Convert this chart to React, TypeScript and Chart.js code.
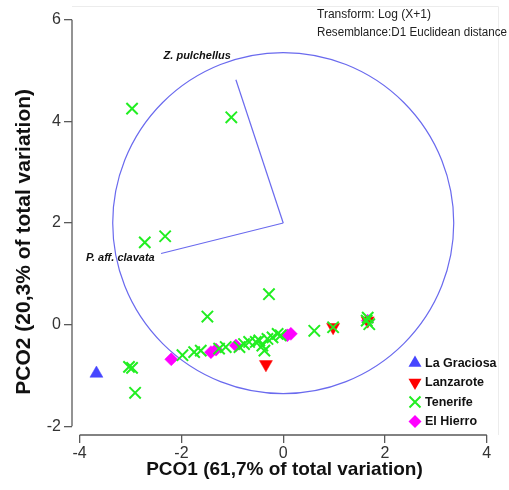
import React, { useEffect, useRef } from "react";
import { Chart, registerables } from "chart.js";

Chart.register(...registerables);

// ---- data ----
const xTicks = [-4, -2, 0, 2, 4];
const yTicks = [-2, 0, 2, 4, 6];

const laGraciosa = [{ x: -3.67, y: -0.96 }];
const lanzarote = [
  { x: -0.34, y: -0.78 },
  { x: 0.98, y: -0.05 },
  { x: 1.66, y: 0.08 },
];
const elHierro = [
  { x: -2.2, y: -0.68 },
  { x: -1.42, y: -0.54 },
  { x: -1.32, y: -0.49 },
  { x: -0.93, y: -0.41 },
  { x: 0.08, y: -0.21 },
  { x: 0.15, y: -0.18 },
  { x: 1.66, y: 0.08 },
];
const tenerife = [
  { x: -2.97, y: 4.25 },
  { x: -1.02, y: 4.08 },
  { x: -2.72, y: 1.62 },
  { x: -2.32, y: 1.74 },
  { x: -0.28, y: 0.6 },
  { x: -1.49, y: 0.16 },
  { x: -3.03, y: -0.83 },
  { x: -2.97, y: -0.85 },
  { x: -2.91, y: -1.34 },
  { x: -1.98, y: -0.6 },
  { x: -1.75, y: -0.54 },
  { x: -1.62, y: -0.51 },
  { x: -1.26, y: -0.47 },
  { x: -1.13, y: -0.44 },
  { x: -0.86, y: -0.44 },
  { x: -0.77, y: -0.38 },
  { x: -0.67, y: -0.34 },
  { x: -0.54, y: -0.34 },
  { x: -0.47, y: -0.31 },
  { x: -0.41, y: -0.41 },
  { x: -0.37, y: -0.51 },
  { x: -0.31, y: -0.28 },
  { x: -0.21, y: -0.25 },
  { x: -0.11, y: -0.18 },
  { x: -0.05, y: -0.21 },
  { x: 0.61, y: -0.12 },
  { x: 0.98, y: -0.05 },
  { x: 1.66, y: 0.14 },
  { x: 1.69, y: 0.01 },
  { x: 1.64, y: 0.08 },
];

const vectorOrigin = { x: 0, y: 2 };
const vectorEnds = [
  { x: -0.93, y: 4.82 },
  { x: -2.4, y: 1.4 },
];
const vectorNames = ["Z. pulchellus", "P. aff. clavata"];
const vectorLabelPos = [
  { x: -1.69, y: 5.29 },
  { x: -3.2, y: 1.31 },
];
const circleRadius = 3.35;

const headerLines = ["Transform: Log (X+1)", "Resemblance:D1 Euclidean distance"];
const legendNames = ["La Graciosa", "Lanzarote", "Tenerife", "El Hierro"];
const xTitle = "PCO1 (61,7% of total variation)";
const yTitle = "PCO2 (20,3% of total variation)";

// ---- styles ----
const BLUE = "#4646ff";
const RED = "#ff0000";
const GREEN = "#22ee22";
const MAGENTA = "#ff00ff";
const VEC = "#6a6aee";
const AXIS = "#5a5a5a";
const FONT = "'Liberation Sans', Arial, sans-serif";

function drawMarker(ctx: CanvasRenderingContext2D, kind: string, x: number, y: number, color: string) {
  ctx.save();
  ctx.fillStyle = color;
  ctx.strokeStyle = color;
  ctx.beginPath();
  if (kind === "up") {
    const r = 7.5;
    ctx.moveTo(x, y - r);
    ctx.lineTo(x + r * 0.866, y + r * 0.5);
    ctx.lineTo(x - r * 0.866, y + r * 0.5);
    ctx.closePath();
    ctx.fill();
  } else if (kind === "down") {
    const r = 7.5;
    ctx.moveTo(x, y + r);
    ctx.lineTo(x + r * 0.866, y - r * 0.5);
    ctx.lineTo(x - r * 0.866, y - r * 0.5);
    ctx.closePath();
    ctx.fill();
  } else if (kind === "x") {
    const h = 5.5;
    ctx.lineWidth = 2;
    ctx.moveTo(x - h, y - h);
    ctx.lineTo(x + h, y + h);
    ctx.moveTo(x + h, y - h);
    ctx.lineTo(x - h, y + h);
    ctx.stroke();
  } else {
    const r = 6.5;
    ctx.moveTo(x, y - r);
    ctx.lineTo(x + r, y);
    ctx.lineTo(x, y + r);
    ctx.lineTo(x - r, y);
    ctx.closePath();
    ctx.fill();
  }
  ctx.restore();
}

const decorPlugin = {
  id: "decor",
  beforeDatasetsDraw(chart: any) {
    const { ctx, scales } = chart;
    const xs = scales.x;
    const ys = scales.y;
    const cx = xs.getPixelForValue(vectorOrigin.x);
    const cy = ys.getPixelForValue(vectorOrigin.y);
    const r = xs.getPixelForValue(circleRadius) - xs.getPixelForValue(0);
    ctx.save();
    ctx.strokeStyle = VEC;
    ctx.lineWidth = 1.2;
    ctx.beginPath();
    ctx.arc(cx, cy, r, 0, Math.PI * 2);
    ctx.stroke();
    ctx.restore();
  },
  afterDraw(chart: any) {
    const { ctx, scales, chartArea } = chart;
    const xs = scales.x;
    const ys = scales.y;
    ctx.save();
    // faint frame
    ctx.strokeStyle = "#ececec";
    ctx.lineWidth = 1;
    ctx.beginPath();
    ctx.moveTo(chartArea.left, 6.5);
    ctx.lineTo(chartArea.right + 1.5, 6.5);
    ctx.lineTo(chartArea.right + 1.5, chartArea.bottom);
    ctx.stroke();
    // bracket axes
    ctx.strokeStyle = AXIS;
    ctx.lineWidth = 1.3;
    ctx.beginPath();
    ctx.moveTo(xs.getPixelForValue(xTicks[0]), chartArea.bottom);
    ctx.lineTo(xs.getPixelForValue(xTicks[xTicks.length - 1]), chartArea.bottom);
    ctx.moveTo(chartArea.left, ys.getPixelForValue(yTicks[0]));
    ctx.lineTo(chartArea.left, ys.getPixelForValue(yTicks[yTicks.length - 1]));
    ctx.stroke();

    // y title
    ctx.save();
    ctx.translate(24, (chartArea.top + chartArea.bottom) / 2 + 18);
    ctx.rotate(-Math.PI / 2);
    ctx.font = `bold 21px ${FONT}`;
    ctx.fillStyle = "#111";
    ctx.textAlign = "center";
    ctx.textBaseline = "middle";
    ctx.fillText(yTitle, 0, 0);
    ctx.restore();

    // vector labels
    ctx.fillStyle = "#111";
    ctx.font = `italic bold 11px ${FONT}`;
    ctx.textAlign = "center";
    ctx.textBaseline = "middle";
    vectorNames.forEach((n, i) => {
      ctx.fillText(n, xs.getPixelForValue(vectorLabelPos[i].x), ys.getPixelForValue(vectorLabelPos[i].y));
    });

    // header
    ctx.font = `12px ${FONT}`;
    ctx.textAlign = "left";
    ctx.fillStyle = "#222";
    const hx = chartArea.right - 180;
    ctx.fillText(headerLines[0], hx, 15, 130);
    ctx.fillText(headerLines[1], hx, 32.5, 190);

    // legend
    const kinds = ["up", "down", "x", "diamond"];
    const colors = [BLUE, RED, GREEN, MAGENTA];
    const lx = chartArea.right - 82;
    const ly = chartArea.bottom - 72;
    ctx.font = `bold 12.5px ${FONT}`;
    legendNames.forEach((n, i) => {
      const y = ly + i * 19.5;
      drawMarker(ctx, kinds[i], lx, y, colors[i]);
      ctx.fillStyle = "#111";
      ctx.fillText(n, lx + 10, y + 0.5);
    });
    ctx.restore();
  },
};

export default function App() {
  const ref = useRef<HTMLCanvasElement | null>(null);
  useEffect(() => {
    document.body.style.margin = "0";
    Chart.defaults.font.family = FONT;
    const canvas = ref.current!;
    const vecLine = (end: { x: number; y: number }) => ({
      type: "line" as const,
      data: [vectorOrigin, end],
      showLine: true,
      borderColor: VEC,
      borderWidth: 1.2,
      pointRadius: 0,
      fill: false,
      order: 10,
    });
    const chart = new Chart(canvas, {
      type: "scatter",
      data: {
        datasets: [
          vecLine(vectorEnds[0]) as any,
          vecLine(vectorEnds[1]) as any,
          {
            label: "El Hierro",
            data: elHierro,
            pointStyle: "rectRot",
            pointRadius: 6.5,
            backgroundColor: MAGENTA,
            borderColor: MAGENTA,
            borderWidth: 0.5,
            order: 4,
          },
          {
            label: "La Graciosa",
            data: laGraciosa,
            pointStyle: "triangle",
            pointRadius: 7.5,
            backgroundColor: BLUE,
            borderColor: BLUE,
            borderWidth: 0.5,
            order: 3,
          },
          {
            label: "Lanzarote",
            data: lanzarote,
            pointStyle: "triangle",
            rotation: 180,
            pointRadius: 7.5,
            backgroundColor: RED,
            borderColor: RED,
            borderWidth: 0.5,
            order: 2,
          },
          {
            label: "Tenerife",
            data: tenerife,
            pointStyle: "crossRot",
            pointRadius: 8,
            backgroundColor: GREEN,
            borderColor: GREEN,
            borderWidth: 2,
            order: 1,
          },
        ],
      },
      options: {
        animation: false,
        responsive: false,
        events: [],
        layout: { padding: { top: 9, right: 12, left: 0, bottom: 0 } },
        plugins: {
          legend: { display: false },
          tooltip: { enabled: false },
        },
        scales: {
          x: {
            type: "linear",
            min: -4.15,
            max: 4.2,
            afterBuildTicks: (s: any) => {
              s.ticks = xTicks.map((v) => ({ value: v }));
            },
            afterFit: (s: any) => {
              s.height = 55;
            },
            grid: { drawOnChartArea: false, drawTicks: true, tickLength: 8, color: AXIS, lineWidth: 1.3 },
            border: { display: false },
            ticks: { font: { size: 16 }, color: "#333", padding: 1, maxRotation: 0, autoSkip: false },
            title: {
              display: true,
              text: xTitle,
              font: { size: 19, weight: "bold" },
              color: "#111",
              padding: { top: 0, bottom: 9 },
            },
          },
          y: {
            type: "linear",
            min: -2.17,
            max: 6.14,
            afterBuildTicks: (s: any) => {
              s.ticks = yTicks.map((v) => ({ value: v }));
            },
            afterFit: (s: any) => {
              s.width = 72;
            },
            grid: { drawOnChartArea: false, drawTicks: true, tickLength: 8, color: AXIS, lineWidth: 1.3 },
            border: { display: false },
            ticks: { font: { size: 16 }, color: "#333", padding: 3, autoSkip: false },
            title: { display: false },
          },
        },
      },
      plugins: [decorPlugin],
    });
    return () => chart.destroy();
  }, []);
  return (
    <div style={{ width: 509, height: 490, background: "#fff" }}>
      <canvas ref={ref} width={509} height={490} style={{ display: "block" }} />
    </div>
  );
}
